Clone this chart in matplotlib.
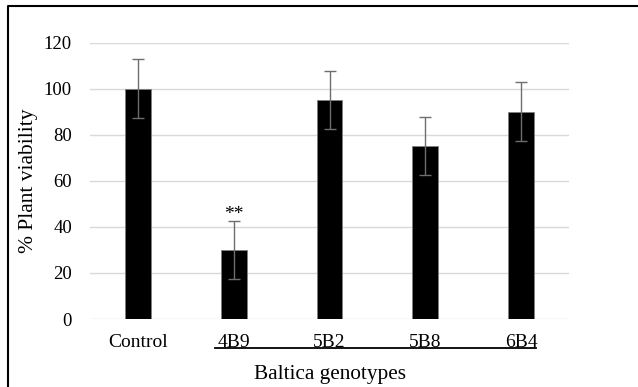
import numpy as np
import matplotlib.pyplot as plt
from matplotlib.lines import Line2D
import matplotlib.transforms as mtransforms

# viability per genotype (mean and error)
genotypes = ['Control', '4B9', '5B2', '5B8', '6B4']
viability = [100, 30, 95, 75, 90]
viability_err = [12.7, 12.5, 12.7, 12.5, 12.8]
significance = ['', '**', '', '', '']

plt.rcParams['font.family'] = ['Liberation Serif', 'DejaVu Serif']

fig = plt.figure(figsize=(6.38, 3.87), dpi=100)
ax = fig.add_axes([90 / 638, 1 - 319 / 387, 479 / 638, 276.5 / 387])

x = np.arange(len(genotypes))
ax.bar(x, viability, width=0.27, color='black', edgecolor='#808080', linewidth=0.6, zorder=3)
ax.errorbar(x, viability, yerr=viability_err, fmt='none', ecolor='#6e6e6e',
            elinewidth=1.0, capsize=4.5, capthick=1.0, zorder=4)

for xi, v, e, s in zip(x, viability, viability_err, significance):
    if s:
        ax.text(xi, v + e + 2.8, s, ha='center', va='center', fontsize=14)

ax.set_xlim(-0.5, len(genotypes) - 0.5)
ax.set_ylim(0, 120)
ax.set_yticks(range(0, 121, 20))
ax.set_xticks(x)
ax.set_xticklabels(genotypes)
ax.yaxis.grid(True, color='#d9d9d9', linewidth=1.0, zorder=0)
ax.set_axisbelow(True)
for sp in ax.spines.values():
    sp.set_visible(False)
ax.tick_params(axis='y', length=0, labelsize=13.5, pad=13)
ax.tick_params(axis='x', length=0, labelsize=14, pad=11)

ax.set_ylabel('% Plant viability', fontsize=15.5, labelpad=4)
ax.set_xlabel('Baltica genotypes', fontsize=15.3, labelpad=10)

# underline grouping the Baltica genotypes
trans = mtransforms.blended_transform_factory(ax.transData, ax.transAxes)
ax.add_line(Line2D([0.805, 4.155], [-0.105, -0.105], transform=trans,
                   color='black', linewidth=1.3, clip_on=False))

# outer frame
fig.add_artist(Line2D([8 / 638, 8 / 638, 1.0], [0.0, 1 - 6 / 387, 1 - 6 / 387],
                      transform=fig.transFigure, color='black', linewidth=1.5))

fig.savefig('out.png', dpi=100)
